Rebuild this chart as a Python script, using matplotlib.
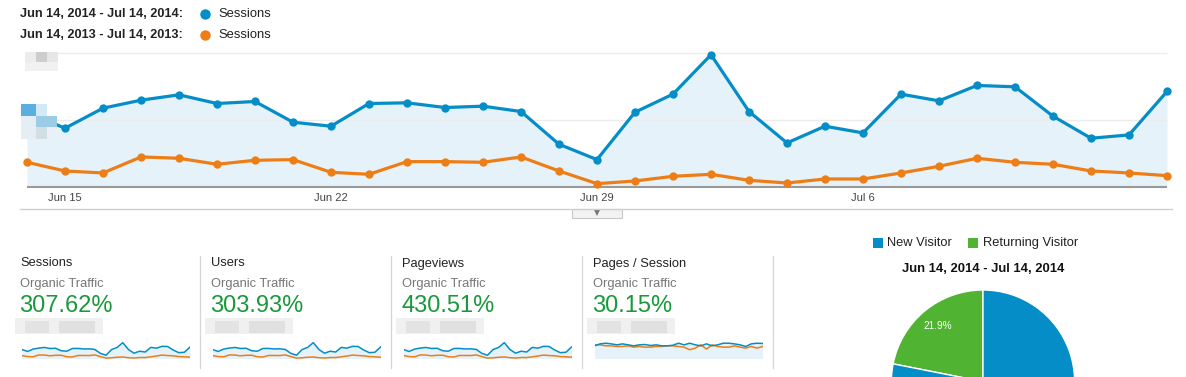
import matplotlib
matplotlib.use("Agg")
import matplotlib.pyplot as plt
from matplotlib.patches import Rectangle

plt.rcParams['font.family'] = ['Liberation Sans', 'DejaVu Sans']

W, H = 1186, 377

# daily sessions, Jun 14 .. Jul 14 (index 0 = Jun 14)
days = list(range(31))
tick_days = [1, 8, 15, 22]
tick_labels = ["Jun 15", "Jun 22", "Jun 29", "Jul 6"]

sessions_2014 = [112, 88, 118, 130, 138, 125, 128, 97, 91, 125, 126, 119, 121, 113, 64, 41,
                 112, 139, 198, 113, 66, 91, 81, 139, 129, 152, 150, 106, 73, 78, 143]
sessions_2013 = [37, 24, 21, 45, 43, 34, 40, 41, 22, 19, 38, 38, 37, 45, 24, 5,
                 9, 16, 19, 10, 6, 12, 12, 21, 31, 43, 37, 34, 24, 21, 17]

pps_2014 = [2.49, 2.87, 3.0, 2.87, 2.68, 2.87, 2.68, 2.49, 2.68, 2.75, 2.55, 2.68, 2.49, 2.49, 2.6, 3.0,
            2.68, 3.0, 2.68, 2.49, 2.87, 2.49, 2.68, 3.0, 3.0, 2.87, 2.68, 2.36, 2.87, 3.0, 2.95]
pps_2013 = [2.68, 2.68, 2.49, 2.49, 2.36, 2.36, 2.49, 2.23, 2.36, 2.23, 2.23, 2.36, 2.36, 2.49, 2.49, 2.36,
            2.23, 1.72, 2.04, 2.68, 1.85, 2.68, 2.36, 2.23, 2.23, 2.49, 2.23, 2.04, 2.36, 2.04, 2.36]

metric_names = ["Sessions", "Users", "Pageviews", "Pages / Session"]
metric_changes = ["307.62%", "303.93%", "430.51%", "30.15%"]
spark_now = [sessions_2014, sessions_2014, sessions_2014, pps_2014]
spark_prev = [sessions_2013, sessions_2013, sessions_2013, pps_2013]
spark_top = [231, 231, 231, 3.63]

period_now = "Jun 14, 2014 - Jul 14, 2014"
period_prev = "Jun 14, 2013 - Jul 14, 2013"

visitor_types = ["Returning Visitor", "New Visitor"]
visitor_share = [21.9, 78.1]

BLUE = '#058dc7'
ORANGE = '#ed7e17'
FILL = '#e6f2f9'
GREEN_PIE = '#50b432'
GREEN_TXT = '#18993a'


def px_rect(x0, y0, x1, y1):
    # pixel box (top-left origin) -> figure fraction rect
    return [x0 / W, 1 - y1 / H, (x1 - x0) / W, (y1 - y0) / H]


def pixel_axes(fig):
    a = fig.add_axes([0, 0, 1, 1])
    a.set_xlim(0, W)
    a.set_ylim(H, 0)
    a.axis('off')
    a.patch.set_alpha(0)
    return a


fig = plt.figure(figsize=(W / 100, H / 100), dpi=100)

# overlay in pixel coordinates for legend / text / decorations
bg = pixel_axes(fig)

# top legend
for row_y, label, col in [(13.7, period_now, BLUE), (35, period_prev, ORANGE)]:
    bg.text(20.5, row_y, label + ":", fontsize=9.2, fontweight='bold', color='#222', va='center')
    bg.plot([205], [row_y], 'o', color=col, markersize=7.5, markeredgewidth=0)
    bg.text(218, row_y, "Sessions", fontsize=9.4, color='#222', va='center')

# main chart
ax = fig.add_axes(px_rect(20, 45, 1172, 209))
ax.set_xlim(-7 / 38, 1145 / 38)
ax.set_ylim((187 - 209) / 0.668, (187 - 45) / 0.668)
ax.patch.set_alpha(0)
for s in ['top', 'left', 'right']:
    ax.spines[s].set_visible(False)
ax.spines['bottom'].set_color('#cfcfcf')
ax.spines['bottom'].set_linewidth(1)
ax.set_xticks([])
ax.set_yticks([])

ax.fill_between(days, sessions_2014, 0, color=FILL, lw=0, zorder=1)
ax.hlines([100, 200], 0, 30, color='#ececec', lw=1, zorder=2)
ax.hlines([0], 0, 30, color='#999999', lw=1.5, zorder=2)
ax.plot(days, sessions_2014, '-o', color=BLUE, lw=2.3, markersize=6, markeredgewidth=0,
        clip_on=False, zorder=4)
ax.plot(days, sessions_2013, '-o', color=ORANGE, lw=2.3, markersize=6, markeredgewidth=0,
        clip_on=False, zorder=3)
for d, lab in zip(tick_days, tick_labels):
    ax.text(d, (187 - 197.5) / 0.668, lab, ha='center', va='center', fontsize=8, color='#444')

# expand tab under the chart
bg.add_patch(Rectangle((572, 209), 50, 8.5, facecolor='#f2f2f2', edgecolor='#c8c8c8', lw=0.8, zorder=6))
bg.plot([597], [212.5], marker='v', color='#777777', markersize=4, markeredgewidth=0, zorder=7)

# metric boxes
box_x = [20.5, 211, 402, 593]
for i in range(4):
    x0 = box_x[i]
    bg.text(x0, 263.5, metric_names[i], fontsize=9.3, color='#222', va='center')
    bg.text(x0, 283.5, "Organic Traffic", fontsize=9.3, color='#777', va='center')
    bg.text(x0 - 1, 306, metric_changes[i], fontsize=17, color=GREEN_TXT, va='center')
    bg.plot([x0 + 179.5] * 2, [256, 368], color='#d6d6d6', lw=0.9)
    # blurred value
    bx = x0 - 6
    bg.add_patch(Rectangle((bx, 318), 88, 16, facecolor='#f0f0f0', edgecolor='none', zorder=5))
    bg.add_patch(Rectangle((bx + 10, 321), 24, 12, facecolor='#e3e3e3', edgecolor='none', zorder=5))
    bg.add_patch(Rectangle((bx + 44, 321), 36, 12, facecolor='#e0e0e0', edgecolor='none', zorder=5))

    sp = fig.add_axes(px_rect(x0 + 1.5, 340, x0 + 169.5, 359))
    sp.set_xlim(0, 30)
    sp.set_ylim(-spark_top[i] * 0.026, spark_top[i])
    sp.axis('off')
    sp.fill_between(days, spark_now[i], 0, color=FILL, lw=0)
    sp.plot(days, spark_prev[i], color=ORANGE, lw=1.1)
    sp.plot(days, spark_now[i], color=BLUE, lw=1.1)

# pie legend and title
bg.add_patch(Rectangle((873, 238), 10, 10, facecolor=BLUE, edgecolor='none'))
bg.text(887, 243, visitor_types[1], fontsize=9.3, color='#222', va='center')
bg.add_patch(Rectangle((968, 238), 10, 10, facecolor=GREEN_PIE, edgecolor='none'))
bg.text(983, 243, visitor_types[0], fontsize=9.3, color='#222', va='center')
bg.text(983, 268.5, period_now, fontsize=9.4, fontweight='bold', color='#111', ha='center', va='center')

pax = fig.add_axes(px_rect(883, 281.6, 1083, 481.6))
pax.pie(visitor_share, colors=[GREEN_PIE, BLUE], startangle=90, counterclock=True, radius=0.916,
        wedgeprops=dict(edgecolor='white', linewidth=1),
        autopct=lambda p: '{:.1f}%'.format(p) if p < 50 else '', pctdistance=0.78,
        textprops=dict(color='white', fontsize=7.3))
pax.set_xlim(-1, 1)
pax.set_ylim(-1, 1)
pax.set_aspect('equal')
pax.axis('off')

# pixelated (blurred) axis labels drawn over the chart
top = pixel_axes(fig)
for (x, y, w, h, c) in [(25, 52, 11, 10, '#ececec'), (36, 52, 11, 10, '#cdcdcd'), (47, 52, 11, 10, '#e6e6e6'),
                        (25, 62, 33, 9, '#f1f1f1'),
                        (21, 104, 15, 12, '#5aaee0'), (36, 104, 11, 12, '#d3e9f6'),
                        (21, 116, 15, 11, '#e3eef5'), (36, 116, 21, 11, '#9ccbe6'),
                        (21, 127, 15, 12, '#e6eef3'), (36, 127, 11, 12, '#d2dde4'),
                        (47, 127, 10, 12, '#e8f1f7')]:
    top.add_patch(Rectangle((x, y), w, h, facecolor=c, edgecolor='none'))

fig.savefig("out.png", dpi=100)
